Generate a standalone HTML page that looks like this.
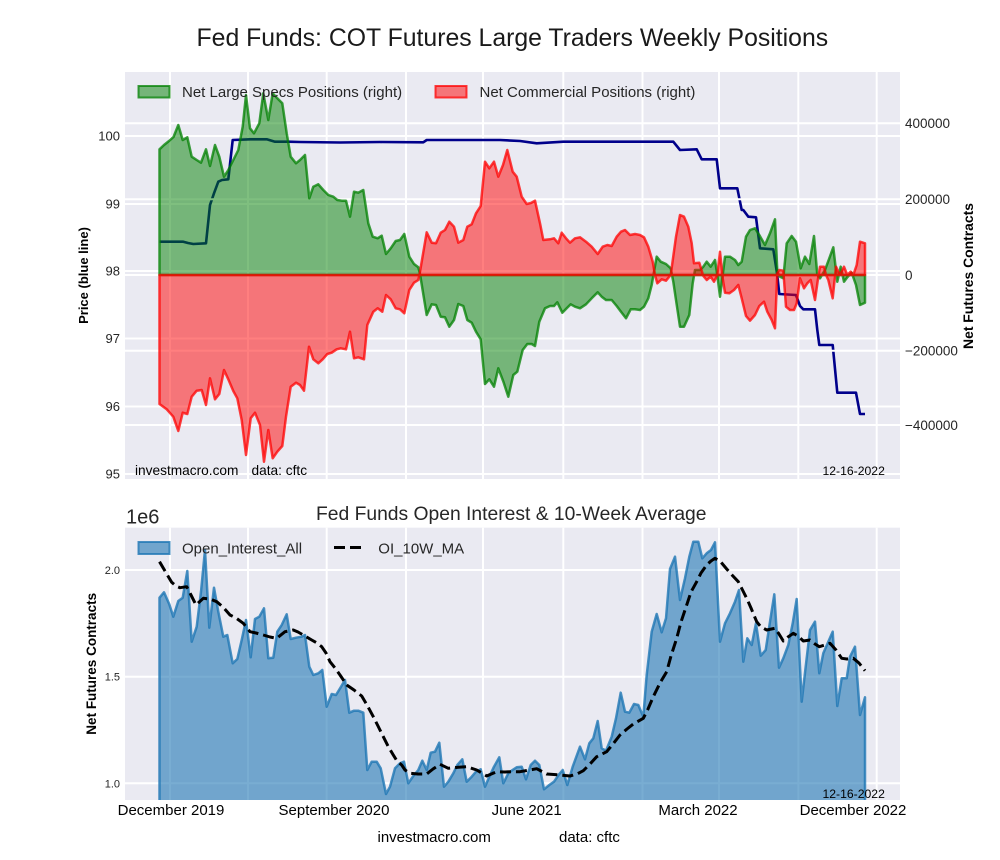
<!DOCTYPE html>
<html>
<head>
<meta charset="utf-8">
<style>
  html, body { margin: 0; padding: 0; background: #ffffff; }
  svg { display: block; font-family: "Liberation Sans", Arial, sans-serif; }
</style>
</head>
<body>
<svg width="1000" height="860" viewBox="0 0 1000 860" xmlns="http://www.w3.org/2000/svg">
  <defs>
    <clipPath id="clipTop"><rect x="125" y="72" width="775" height="407"/></clipPath>
    <clipPath id="clipBot"><rect x="125" y="527.7" width="775" height="272.3"/></clipPath>
  </defs>
  <rect x="0" y="0" width="1000" height="860" fill="#ffffff"/>

  <!-- Title -->
  <text x="196.5" y="46" font-size="24.8" fill="#1a1a1a">Fed Funds: COT Futures Large Traders Weekly Positions</text>

  <!-- ================= TOP PANEL ================= -->
  <rect x="125" y="72" width="775" height="407" fill="#eaeaf2"/>
  <g stroke="#ffffff" stroke-width="2" fill="none">
    <line x1="125" y1="136" x2="900" y2="136"/>
    <line x1="125" y1="204" x2="900" y2="204"/>
    <line x1="125" y1="271" x2="900" y2="271"/>
    <line x1="125" y1="338.5" x2="900" y2="338.5"/>
    <line x1="125" y1="406.5" x2="900" y2="406.5"/>
    <line x1="125" y1="474" x2="900" y2="474"/>
    <line x1="170" y1="72" x2="170" y2="479"/>
    <line x1="248" y1="72" x2="248" y2="479"/>
    <line x1="326.7" y1="72" x2="326.7" y2="479"/>
    <line x1="406" y1="72" x2="406" y2="479"/>
    <line x1="483" y1="72" x2="483" y2="479"/>
    <line x1="563.3" y1="72" x2="563.3" y2="479"/>
    <line x1="642.5" y1="72" x2="642.5" y2="479"/>
    <line x1="719" y1="72" x2="719" y2="479"/>
    <line x1="798.3" y1="72" x2="798.3" y2="479"/>
    <line x1="876.7" y1="72" x2="876.7" y2="479"/>
  </g>

  <!-- Price (blue line) -->
  <polyline clip-path="url(#clipTop)" fill="none" stroke="#00008b" stroke-width="2.6" stroke-linejoin="round"
    points="159.5,241.7 183.3,241.7 188,243 193.3,244 206,243.3 210,205 214,193.3 218.3,181.7 222,180 228.3,179.3 232.7,140 250,139.3 266.7,139.3 275,141.7 288.3,141.7 300,142 340,142.5 380,142 423.3,142.3 426.7,140 500,140 520,141 536.7,143.3 563.3,141.7 673.3,141.7 680,150 696.7,149.3 701.7,159.3 716.7,159.3 720,188.3 737.3,188.3 741.7,210 743.3,210 748.3,216.7 756,217.3 760,248.3 773.3,249.3 777,273 779.3,294 796,295 800,306 803.3,309.3 815,309.3 817.3,330 819.3,345 832.7,345 837.3,392.7 856,392.7 860,414 865,414"/>

  <!-- right axis horizontal grid (drawn above price line) -->
  <g stroke="#ffffff" stroke-width="2" fill="none">
    <line x1="125" y1="123.3" x2="900" y2="123.3"/>
    <line x1="125" y1="199.3" x2="900" y2="199.3"/>
    <line x1="125" y1="275" x2="900" y2="275"/>
    <line x1="125" y1="350.7" x2="900" y2="350.7"/>
    <line x1="125" y1="425" x2="900" y2="425"/>
  </g>

  <!-- Net Large Specs (green) -->
  <polygon clip-path="url(#clipTop)" fill="#008000" fill-opacity="0.5" stroke="#008000" stroke-opacity="0.75" stroke-width="2.5" stroke-linejoin="round"
    points="159.5,275 159.5,149.3 164,145 169,141 173.5,137 178.3,125 182.7,140 187.3,137.3 191.7,156.7 196.7,160 201,162.7 206,149.3 210,166 215,145 219.3,156.7 224,176.7 228.3,170 233.3,160 238.3,150 242.7,126.7 246,95 250,128.3 254,133.3 259.3,123.3 263.3,93.3 268.3,120 272.7,93.3 277.3,98.3 282.3,103.3 286.7,133.3 290.7,156.7 296,163.3 300,160 305,155 309.3,198.3 313.3,186.7 318.3,184.3 323.3,190 328.3,195 333.3,196.7 337.3,200 341.7,200.7 346,200.7 350,216.7 354,191.7 358.3,192.7 363.3,190 368.3,223.3 372.7,236.7 377.7,238.3 381.7,235.7 386,254 390.7,248.3 395.7,241 400,240 404.3,234 409.3,256.7 414,264 418.3,267.3 420,274 426.7,315 431.7,304.3 436,305 440.7,316.7 445,317.3 449.3,326.7 454,320 458.3,304 463.3,306 467.3,320 471.7,322.7 476,331.7 480.7,339.3 485,384 489.3,379.3 494,386.7 498.3,368.3 503.5,382 508.3,396.7 513.3,375 517.3,371.7 522.7,350 527.3,344 531.7,344 535,346 539.3,321.7 545,308.3 550,306 554,306 557.3,302.3 562.3,312.7 566.7,308.3 570.7,304.3 575,306.7 580,308.3 586,304.3 591.7,298.3 597.7,292.3 601.7,296.7 606,300 611.7,300 616.7,306 621,311.7 626,318.3 630.7,309.3 635,309.3 640,310 644,306.7 648.3,298.3 651.7,285 654,271.7 656.7,256.7 660.7,261.7 666,264 670.7,268.3 673.3,281.7 676,300 680,326.7 684,326.7 689.3,315 692.7,283.3 695,270 700,270 703.3,266.7 706.7,261.7 710.7,266.7 715,260 717.3,275 720,296.7 722.7,275 725,256.7 730,256.7 735,260 738.3,265 741.7,261.7 746,236.7 750,230 755,228.3 759.3,235 765,245 770,233.3 775,219.3 777.3,271.7 780,276.7 783.3,278.3 786.7,243.3 791.7,236 796,241.7 800.7,268.3 805,256.7 809.3,264 814,236 817.3,275 820,278.3 825,270 829.3,258.3 833.3,247.3 837.3,281.7 840.7,266.7 844,281.7 847.3,277.3 851.7,272.7 856,285 860,305 865,302.7 865,275"/>

  <!-- Net Commercial (red) -->
  <polygon clip-path="url(#clipTop)" fill="#ff0000" fill-opacity="0.5" stroke="#ff0000" stroke-opacity="0.75" stroke-width="2.5" stroke-linejoin="round"
    points="159.5,275 159.5,404 166.7,409.3 173.3,416.7 178.3,431 182.7,412.7 187.3,414 191.7,396.7 196.7,390.7 201.7,390 206,405 210,378.3 215,399.3 219.3,394 224,370 228.3,379.3 233.3,391 237.3,398.3 241.7,420 246,455 250.7,418.3 255,412.7 260,425 264,461.7 268.3,430 272.7,458.3 277.3,451.7 282.3,446 286,416.7 290.7,386.7 296,382.7 300,385 304,390.7 309,346.7 313.3,359.3 318.3,363.3 322.7,359.3 327.3,354 331.7,352.7 336.7,349.3 340.7,348.3 346,349.3 350,331.7 354,358.3 358.3,357.3 364,359.3 367.3,325 373.3,311.7 377.7,308.3 382.3,311.7 386,295 390.7,299.3 395.7,308.3 400,309.3 404.3,313.3 409.3,290 414,282.7 418.3,280 420,271.7 426.7,232.3 431.7,242.7 436,243.3 440.7,232.7 445,230 449.3,221.7 454,226.7 458.3,242.7 463.3,240 467.3,226.7 471.7,224.3 476,213.3 480.7,206 485,161.7 489.3,168.3 494,161.7 498.3,176.7 503,165 507.3,150 512.7,171.7 516.7,176.7 521.7,196.7 526.7,204 531,203 535,200.7 540,223.3 543.3,240 550,239.3 554,238.3 558.3,243.3 561.7,232.7 566,238.3 570,242.7 575,238.3 580,237.3 586,241.7 591.7,246.7 597.7,254 602.7,246.7 607.3,245 611.7,246 616.7,236.7 621,231.7 625,230 630,235 635,234 640,235 644,237.3 648.3,246.7 652.7,261.7 655,275 657.3,283.3 661.7,279.3 666,280.7 670.7,275 676,236.7 680,215 684,216.7 688.3,226.7 691.7,243.3 694,263.3 699.3,262.7 703.3,276 706.7,280 710.7,276.7 714,281.7 717.3,275 720,251.7 722.7,278.3 725,292.7 729.3,293.3 734,290 738.3,285 741.7,298.3 746,316 750,320.7 755,315 759.3,306 764,301.7 767.3,311.7 771.7,320 775,328.3 777.3,273.3 779.3,270 783.3,270.7 786,306.7 790,310 794,310 796.7,303.3 800,278.3 804,288.3 807.3,283.3 810.7,280 815,300 818.3,276.7 820,266.7 824,266.7 826,275 828.3,280 832.7,298.3 836,266.7 840,275 844,266.7 847.3,275 850.7,271.7 853.3,275 856.7,265 860,241.7 865,243.3 865,275"/>

  <!-- top legend -->
  <rect x="138.5" y="86" width="31" height="11.5" fill="#008000" fill-opacity="0.5" stroke="#008000" stroke-opacity="0.75" stroke-width="2"/>
  <text x="182" y="97" font-size="15" fill="#262626">Net Large Specs Positions (right)</text>
  <rect x="435.5" y="86" width="31" height="11.5" fill="#ff0000" fill-opacity="0.5" stroke="#ff0000" stroke-opacity="0.75" stroke-width="2"/>
  <text x="479.5" y="97" font-size="15" fill="#262626">Net Commercial Positions (right)</text>

  <!-- in-plot annotations -->
  <text x="135" y="475" font-size="13.7" fill="#000000">investmacro.com</text>
  <text x="251.5" y="475" font-size="13.7" fill="#000000">data: cftc</text>
  <text x="822.5" y="475" font-size="12.2" fill="#000000">12-16-2022</text>

  <!-- left tick labels -->
  <g font-size="13" fill="#262626" text-anchor="end">
    <text x="120" y="140.5">100</text>
    <text x="120" y="208.5">99</text>
    <text x="120" y="275.5">98</text>
    <text x="120" y="343">97</text>
    <text x="120" y="411">96</text>
    <text x="120" y="478.5">95</text>
  </g>
  <!-- right tick labels -->
  <g font-size="13.5" fill="#262626">
    <text x="905" y="128">400000</text>
    <text x="905" y="204">200000</text>
    <text x="905" y="279.8">0</text>
    <text x="905" y="355.5">−200000</text>
    <text x="905" y="429.8">−400000</text>
  </g>
  <!-- axis labels -->
  <text transform="translate(88,275.5) rotate(-90)" text-anchor="middle" font-size="13" font-weight="bold" fill="#000000">Price (blue line)</text>
  <text transform="translate(973,276) rotate(-90)" text-anchor="middle" font-size="13.9" font-weight="bold" fill="#000000">Net Futures Contracts</text>

  <!-- ================= BOTTOM PANEL ================= -->
  <text x="316" y="520" font-size="19.3" fill="#262626">Fed Funds Open Interest &amp; 10-Week Average</text>
  <text x="126" y="523.3" font-size="20" fill="#262626">1e6</text>

  <rect x="125" y="527.7" width="775" height="272.3" fill="#eaeaf2"/>
  <g stroke="#ffffff" stroke-width="2" fill="none">
    <line x1="125" y1="570" x2="900" y2="570"/>
    <line x1="125" y1="676.7" x2="900" y2="676.7"/>
    <line x1="125" y1="783.3" x2="900" y2="783.3"/>
    <line x1="170" y1="527.7" x2="170" y2="800"/>
    <line x1="248" y1="527.7" x2="248" y2="800"/>
    <line x1="326.7" y1="527.7" x2="326.7" y2="800"/>
    <line x1="406" y1="527.7" x2="406" y2="800"/>
    <line x1="483" y1="527.7" x2="483" y2="800"/>
    <line x1="563.3" y1="527.7" x2="563.3" y2="800"/>
    <line x1="642.5" y1="527.7" x2="642.5" y2="800"/>
    <line x1="719" y1="527.7" x2="719" y2="800"/>
    <line x1="798.3" y1="527.7" x2="798.3" y2="800"/>
    <line x1="876.7" y1="527.7" x2="876.7" y2="800"/>
  </g>

  <!-- Open interest fill -->
  <polygon clip-path="url(#clipBot)" fill="#1f77b4" fill-opacity="0.6" stroke="#1f77b4" stroke-opacity="0.8" stroke-width="2.5" stroke-linejoin="round"
    points="159.5,820 159.5,597.7 164,592.3 169.3,604.3 173.3,616.7 178.3,601 182.7,597.7 187.3,571 191.7,641.7 196.7,626.7 201,591.7 205,550 209.3,627.7 214,587.7 218.3,611.7 223.3,636.7 227.3,635 232.7,663.3 237.3,659 241.7,640 246,620 250.7,657.3 255,619 259.3,616.7 264,608.3 268.3,658.3 273.3,657.7 277.3,631.7 281.7,625 286.7,614.3 290.7,639 296,637.7 301.7,636.7 305,635 309.3,666.7 313.3,675 318.3,673.3 322.3,670 326.7,706.7 331.7,694 336,695 340.7,687.3 345,680 349.3,712.7 354,710.7 358.3,710.7 363.3,712.7 367.3,770 371.7,761.7 376.7,761.7 380.7,768.3 386,794 390,786.7 395,768.3 400,763.3 404,761.7 408.3,783.3 413.3,776 418.3,770 422.3,760.7 426.7,770 430.7,752.7 435,751.7 439.3,742.7 444,786.7 448.3,781.7 453.3,773.3 457.3,765 462.3,759.3 466.7,781.7 471.7,776.7 476,771.7 480.7,769.3 485,786.7 489.3,776.7 494,766.7 499.3,757.3 503.3,783.3 508.3,773.3 512.5,770 516.7,767.3 521.7,766.7 526,779.3 530.7,765 535,760.7 539.3,765 544,789.3 549.3,785 554,781.7 559.3,774 562.7,770 567.3,785 572.7,766.7 580,746.7 585,759.3 589.3,743.3 593.3,738.3 597.7,721 601.7,748.3 606,750.7 611.7,736.7 616,718.3 620.7,692.7 625,711.7 629.3,712.7 634,704 638.3,705 643.3,716.7 646.7,675 651.7,631.7 656.7,614 661.7,632.3 666,618.3 670,569 675,556.7 680,600 685,578.3 689.3,556.7 693.3,541.7 698.3,541.7 702.3,558.3 706.7,553.3 711,550 715,542.3 720,641.7 725,623.3 730,613.3 735,601.7 739,590 743.3,661.7 747.3,638.3 751.7,645 756,623.3 760.7,655.7 765.7,650 770,621.7 774.3,594.3 779,667.7 783.3,658.3 788.3,645 792.7,623.3 796.7,599 801.7,701.7 806,664 810,630 815,621.7 819.3,673.3 823.3,653.3 828.3,641.7 832.7,631.7 837.3,706 841.7,678.3 846.7,678.3 850,656.7 855,646.7 860,715 865,697.3 865,820"/>

  <!-- 10W MA dashed -->
  <polyline clip-path="url(#clipBot)" fill="none" stroke="#000000" stroke-width="3" stroke-dasharray="11,5" stroke-linejoin="round"
    points="159.5,561.7 165,571 171.7,582.3 176,586 180,587.7 186.7,586.7 191,595 196,605 203.3,598.3 210,599 216.7,601.7 223,607 230,615 236,618 243.3,623.3 250,631.7 256,633 263.3,635 270,637 276.7,638.3 285,631.7 293.3,630 298,632 303.3,635 311.7,640 317,643 321.7,646.7 326,653 330,661.7 335,668 340,675 346.7,685 354,690 361.7,696 367,705 373.3,716.7 378,726 383.3,736.7 388,746 393.3,755 397,761 401.7,765 405,770 410,773.3 418,774 426.7,774 433,769 440,764.3 448.3,768.3 458.3,767.3 466.7,766.7 476.7,770 486.7,776 496.7,771.7 505,772 510,771.7 520,771.7 530,770 536.7,768.7 546.7,774 560,775 570,776 577,774 583.3,770.7 590,764 596.7,756.7 606.7,751.7 613,744 620,735 627,729 633.3,724 643.3,718.3 648,709 653.3,696.7 660,683 666.7,671.7 671,656 676.7,638.3 681,622 686.7,605 691,592 696.7,581.7 701,573 706.7,565 711,561 715,558.3 720,561 726.7,569 732,575 738.3,581.7 742,589 746.7,598.3 751,608 756.7,621.7 761,627 766.7,630 775,628.3 779,634 783.3,641 788,637 793.3,633.3 798,636 803.3,641 810,640 815,644 819.3,646.7 825,645 830,643.3 836,650 841.7,658.3 847,659 853.3,658.3 859,663 865,670.7"/>

  <!-- bottom legend -->
  <rect x="138.5" y="542" width="31" height="12" fill="#1f77b4" fill-opacity="0.6" stroke="#1f77b4" stroke-opacity="0.8" stroke-width="2"/>
  <text x="182" y="553.5" font-size="15" fill="#262626">Open_Interest_All</text>
  <line x1="334" y1="547.5" x2="364" y2="547.5" stroke="#000000" stroke-width="3" stroke-dasharray="11,5"/>
  <text x="378.3" y="553.5" font-size="15" fill="#262626">OI_10W_MA</text>

  <text x="822.5" y="798" font-size="12.2" fill="#000000">12-16-2022</text>

  <!-- bottom y ticks -->
  <g font-size="11" fill="#262626" text-anchor="end">
    <text x="120" y="574">2.0</text>
    <text x="120" y="680.7">1.5</text>
    <text x="120" y="787.3">1.0</text>
  </g>
  <text transform="translate(96,663.8) rotate(-90)" text-anchor="middle" font-size="13.5" font-weight="bold" fill="#000000">Net Futures Contracts</text>

  <!-- x tick labels -->
  <g font-size="15" fill="#000000" text-anchor="middle">
    <text x="171" y="815">December 2019</text>
    <text x="334" y="815">September 2020</text>
    <text x="526.7" y="815">June 2021</text>
    <text x="698" y="815">March 2022</text>
    <text x="853" y="815">December 2022</text>
  </g>

  <!-- footer -->
  <text x="377.5" y="842" font-size="15" fill="#000000">investmacro.com</text>
  <text x="559" y="842" font-size="15" fill="#000000">data: cftc</text>
</svg>
</body>
</html>
